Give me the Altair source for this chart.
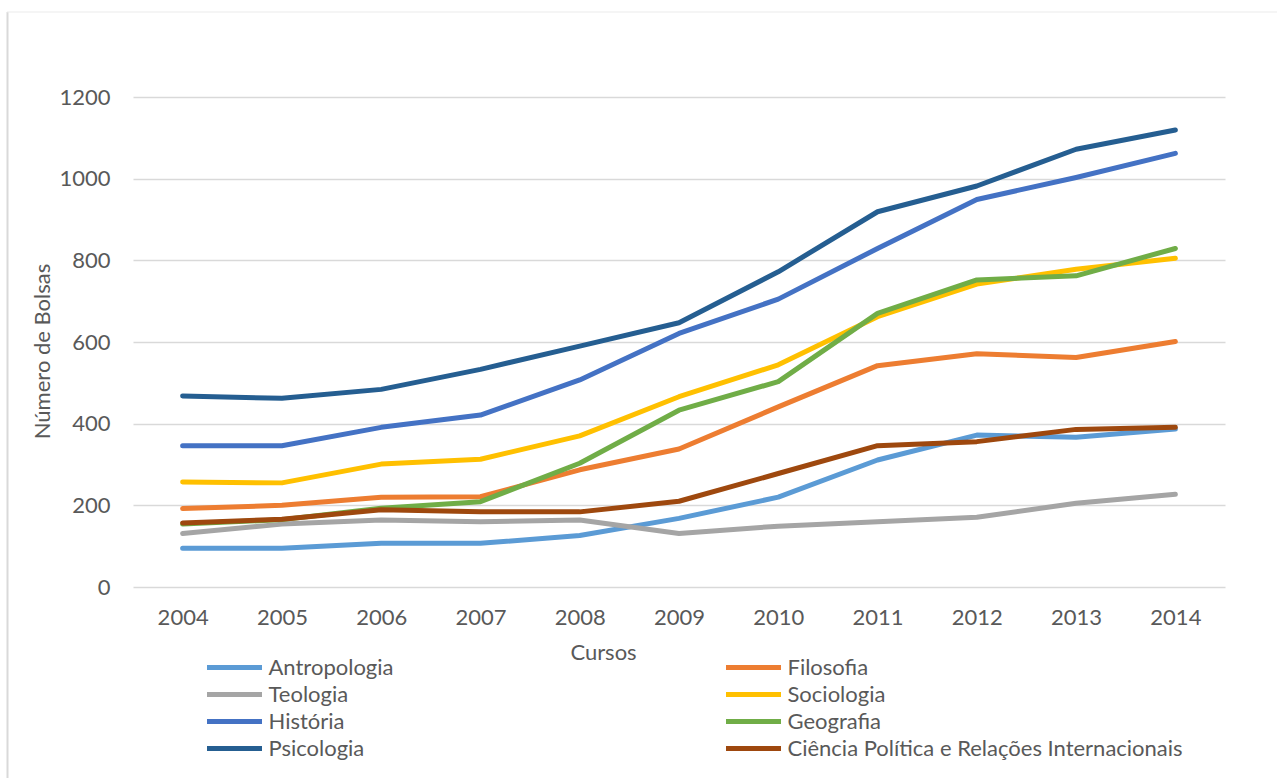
import altair as alt
import pandas as pd

years = [str(y) for y in range(2004, 2015)]

series_names = [
    "Antropologia",
    "Filosofia",
    "Teologia",
    "Sociologia",
    "História",
    "Geografia",
    "Psicologia",
    "Ciência Política e Relações Internacionais",
]

antropologia = [95, 95, 107, 107, 126, 168, 220, 311, 372, 367, 387]
filosofia = [192, 200, 220, 221, 287, 338, 441, 542, 571, 562, 601]
teologia = [131, 154, 164, 160, 164, 131, 149, 160, 171, 205, 227]
sociologia = [257, 255, 301, 313, 370, 466, 544, 662, 742, 778, 805]
historia = [346, 346, 391, 421, 507, 621, 705, 829, 949, 1003, 1062]
geografia = [154, 165, 193, 209, 303, 433, 503, 670, 752, 762, 829]
psicologia = [468, 462, 484, 533, 590, 647, 772, 919, 982, 1072, 1119]
ciencia_politica = [157, 166, 189, 184, 184, 210, 278, 346, 356, 386, 391]

series_values = [antropologia, filosofia, teologia, sociologia,
                 historia, geografia, psicologia, ciencia_politica]

colors = ["#5B9BD5", "#ED7D31", "#A5A5A5", "#FFC000",
          "#4472C4", "#70AD47", "#255E91", "#9E480E"]

y_ticks = [0, 200, 400, 600, 800, 1000, 1200]

# legend fills column by column (4 rows x 2 columns), so list the
# left column first, then the right column
legend_order = [0, 2, 4, 6, 1, 3, 5, 7]
legend_domain = [series_names[i] for i in legend_order]
legend_range = [colors[i] for i in legend_order]

rows = []
for name, vals in zip(series_names, series_values):
    for yr, v in zip(years, vals):
        rows.append({"Ano": yr, "Curso": name, "Bolsas": v})
df = pd.DataFrame(rows)

FONT = "Lato"
TXT = "#595959"
GRID = "#d9d9d9"

lines = alt.Chart(df).mark_line(
    strokeWidth=5, strokeCap="round", strokeJoin="round"
).encode(
    x=alt.X(
        "Ano:O", sort=years,
        scale=alt.Scale(type="point", padding=0.5),
        axis=alt.Axis(
            title="Cursos", labelAngle=0, labelFont=FONT, labelFontSize=22,
            labelColor=TXT, labelPadding=20, ticks=False, domain=False, grid=False,
            titleFont=FONT, titleFontSize=22, titleColor=TXT, titleFontWeight="normal",
            titleX=470, titleY=65, titleBaseline="middle", titleAlign="center",
        ),
    ),
    y=alt.Y(
        "Bolsas:Q",
        scale=alt.Scale(domain=[0, 1200], nice=False),
        axis=alt.Axis(
            values=y_ticks, format="d", grid=True, gridColor=GRID, gridWidth=1.5,
            domain=False, ticks=False, labelFont=FONT, labelFontSize=22,
            labelColor=TXT, labelPadding=23,
            title="Número de Bolsas", titleFont=FONT, titleFontSize=22,
            titleColor=TXT, titleFontWeight="normal",
            titleX=-91, titleY=254, titleAngle=270, titleBaseline="middle",
            titleAlign="center",
        ),
    ),
    color=alt.Color(
        "Curso:N",
        scale=alt.Scale(domain=legend_domain, range=legend_range),
        legend=alt.Legend(
            title=None, orient="none", legendX=71.5, legendY=557, columns=2,
            symbolType="stroke", symbolSize=3025, symbolStrokeWidth=5,
            clipHeight=27, labelFont=FONT, labelFontSize=22, labelColor=TXT,
            labelOffset=4, labelLimit=700, columnPadding=330, rowPadding=0,
            padding=0,
        ),
    ),
)

frame = alt.Data(values=[{"k": 1}])
left_border = alt.Chart(frame).mark_rule(color=GRID, strokeWidth=2).encode(
    x=alt.value(-125.5), y=alt.value(-85), y2=alt.value(700)
)
top_border = alt.Chart(frame).mark_rule(color="#ebebeb", strokeWidth=1).encode(
    x=alt.value(-126), x2=alt.value(1160), y=alt.value(-85)
)

chart = alt.layer(left_border, top_border, lines).properties(
    width=1092, height=490,
    padding={"left": 133, "top": 97, "right": 52, "bottom": 191},
    autosize=alt.AutoSizeParams(type="none"),
    background="white",
).configure_view(stroke=None)

chart.save("out.html", embed_options={"renderer": "svg", "actions": False})
